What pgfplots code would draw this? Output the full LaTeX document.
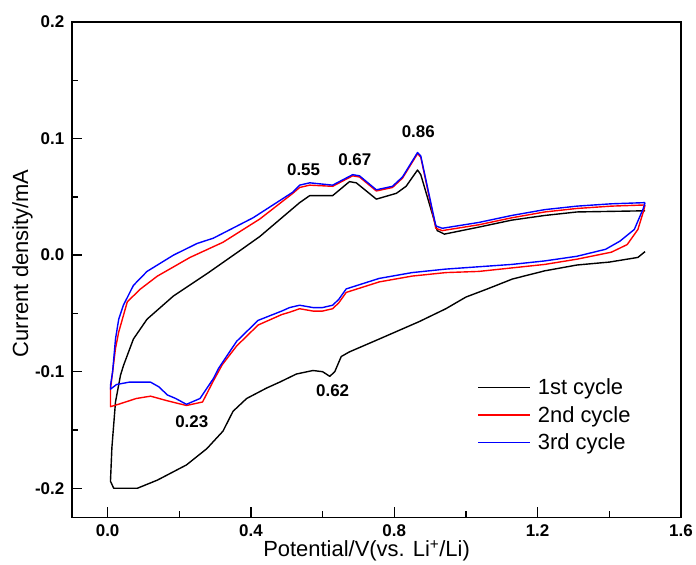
\documentclass[border=0pt]{standalone}
\usepackage{fontspec}
\setmainfont{Liberation Sans}
\usepackage{pgfplots}
\pgfplotsset{compat=1.18}

\begin{document}
\begin{tikzpicture}
\begin{axis}[
    name=ax,
    scale only axis,
    width=611pt, height=497pt,
    xmin=-0.1, xmax=1.6, ymin=-0.225, ymax=0.2,
    xtick={0,0.4,0.8,1.2,1.6},
    minor xtick={0.2,0.6,1.0,1.4},
    ytick={-0.2,-0.1,0,0.1,0.2},
    minor ytick={-0.15,-0.05,0.05,0.15},
    tick align=inside, tick pos=left,
    major tick length=10pt, minor tick length=6pt,
    every tick/.style={line width=1.4pt, black},
    axis line style={line width=1.6pt},
    /pgf/number format/assume math mode=true,
    /pgf/number format/fixed,
    /pgf/number format/fixed zerofill,
    /pgf/number format/precision=1,
    tick label style={font=\fontsize{17}{17}\selectfont\bfseries},
    xticklabel style={yshift=-4pt},
    yticklabel style={xshift=-4pt},
    label style={font=\fontsize{22}{22}\selectfont},
    xlabel={Potential/V(vs. Li\textsuperscript{+}/Li)},
    ylabel={Current density/mA},
    xlabel style={at={(axis description cs:0.484,0)}, anchor=north, inner sep=0pt, yshift=-23pt},
    ylabel style={at={(axis description cs:-0.081,0.513)}, anchor=center, inner sep=0pt},
    legend style={draw=none, fill=none, at={(0.666,0.284)}, anchor=north west,
      font=\fontsize{22}{22}\selectfont, row sep=6pt, inner sep=0pt},
    legend cell align=left,
    legend image code/.code={\draw[#1] (0pt,0pt) -- (52pt,0pt); \path (57pt,0pt);},
]
% 1st cycle
\addplot[black, line width=1.4pt, line join=round] coordinates {
(1.5,0.003)(1.48,-0.002)(1.40,-0.006)(1.31,-0.0085)(1.22,-0.0135)(1.13,-0.0205)
(1.06,-0.029)(1.0,-0.036)(0.944,-0.046)(0.87,-0.057)(0.758,-0.072)(0.675,-0.083)
(0.652,-0.087)(0.634,-0.100)(0.62,-0.104)(0.60,-0.100)(0.573,-0.099)(0.527,-0.102)
(0.48,-0.109)(0.444,-0.114)(0.388,-0.123)(0.35,-0.134)(0.322,-0.151)(0.277,-0.166)
(0.22,-0.180)(0.139,-0.193)(0.083,-0.200)(0.017,-0.200)(0.008,-0.194)
(0.012,-0.165)(0.022,-0.126)(0.036,-0.103)(0.044,-0.095)(0.072,-0.072)(0.11,-0.055)
(0.184,-0.035)(0.277,-0.016)(0.37,0.004)(0.425,0.016)(0.49,0.033)(0.536,0.045)
(0.564,0.051)(0.628,0.051)(0.675,0.063)(0.694,0.062)(0.75,0.048)(0.806,0.053)
(0.833,0.059)(0.865,0.073)(0.874,0.069)(0.92,0.021)(0.94,0.018)(1.036,0.024)
(1.128,0.030)(1.22,0.034)(1.31,0.037)(1.5,0.038)
};
% 2nd cycle
\addplot[red, line width=1.4pt, line join=round] coordinates {
(1.5,0.043)(1.495,0.037)(1.48,0.022)(1.45,0.009)(1.406,0.0025)(1.31,-0.0035)
(1.22,-0.008)(1.128,-0.011)(1.036,-0.014)(0.944,-0.015)(0.85,-0.018)(0.758,-0.023)
(0.666,-0.032)(0.645,-0.041)(0.628,-0.046)(0.60,-0.048)(0.573,-0.048)(0.536,-0.046)
(0.508,-0.049)(0.486,-0.051)(0.42,-0.060)(0.36,-0.078)(0.32,-0.094)(0.295,-0.108)
(0.265,-0.126)(0.22,-0.129)(0.167,-0.125)(0.12,-0.121)(0.08,-0.123)(0.03,-0.128)
(0.008,-0.130)
(0.008,-0.115)(0.014,-0.100)(0.022,-0.080)(0.031,-0.066)(0.055,-0.040)(0.092,-0.029)
(0.139,-0.018)(0.23,-0.002)(0.322,0.011)(0.425,0.031)(0.517,0.053)(0.536,0.058)
(0.564,0.060)(0.628,0.059)(0.684,0.068)(0.703,0.067)(0.75,0.055)(0.795,0.058)
(0.823,0.066)(0.865,0.087)(0.874,0.084)(0.916,0.023)(0.934,0.021)(1.036,0.026)
(1.128,0.032)(1.22,0.037)(1.31,0.040)(1.406,0.042)(1.5,0.043)
};
% 3rd cycle
\addplot[blue, line width=1.4pt, line join=round] coordinates {
(1.5,0.045)(1.495,0.040)(1.47,0.022)(1.43,0.012)(1.39,0.005)(1.31,-0.001)
(1.22,-0.005)(1.128,-0.008)(1.036,-0.010)(0.944,-0.012)(0.85,-0.015)(0.758,-0.020)
(0.666,-0.029)(0.645,-0.038)(0.628,-0.043)(0.60,-0.045)(0.573,-0.045)(0.536,-0.043)
(0.508,-0.045)(0.486,-0.048)(0.42,-0.056)(0.36,-0.074)(0.31,-0.097)(0.295,-0.106)
(0.258,-0.123)(0.22,-0.128)(0.19,-0.123)(0.167,-0.120)(0.143,-0.113)(0.12,-0.109)
(0.06,-0.109)(0.025,-0.111)(0.008,-0.115)
(0.008,-0.112)(0.014,-0.100)(0.022,-0.072)(0.031,-0.055)(0.044,-0.043)(0.072,-0.026)
(0.11,-0.014)(0.184,0.000)(0.25,0.010)(0.295,0.0145)(0.406,0.032)(0.517,0.054)
(0.536,0.060)(0.564,0.062)(0.628,0.060)(0.684,0.069)(0.703,0.068)(0.75,0.056)
(0.795,0.059)(0.823,0.067)(0.865,0.088)(0.874,0.085)(0.916,0.025)(0.934,0.023)
(1.036,0.028)(1.128,0.034)(1.22,0.039)(1.31,0.042)(1.406,0.044)(1.5,0.045)
};
\legend{1st cycle,2nd cycle,3rd cycle}
\node[font=\fontsize{17}{17}\selectfont\bfseries] at (axis cs:0.547,0.073) {0.55};
\node[font=\fontsize{17}{17}\selectfont\bfseries] at (axis cs:0.69,0.082) {0.67};
\node[font=\fontsize{17}{17}\selectfont\bfseries] at (axis cs:0.867,0.106) {0.86};
\node[font=\fontsize{17}{17}\selectfont\bfseries] at (axis cs:0.235,-0.143) {0.23};
\node[font=\fontsize{17}{17}\selectfont\bfseries] at (axis cs:0.628,-0.116) {0.62};
\end{axis}
% fix the page to the reference's margins round the axis
\path (ax.south west) ++(-72pt,-47pt);
\path (ax.north east) ++(13pt,22pt);
\end{tikzpicture}
\end{document}
